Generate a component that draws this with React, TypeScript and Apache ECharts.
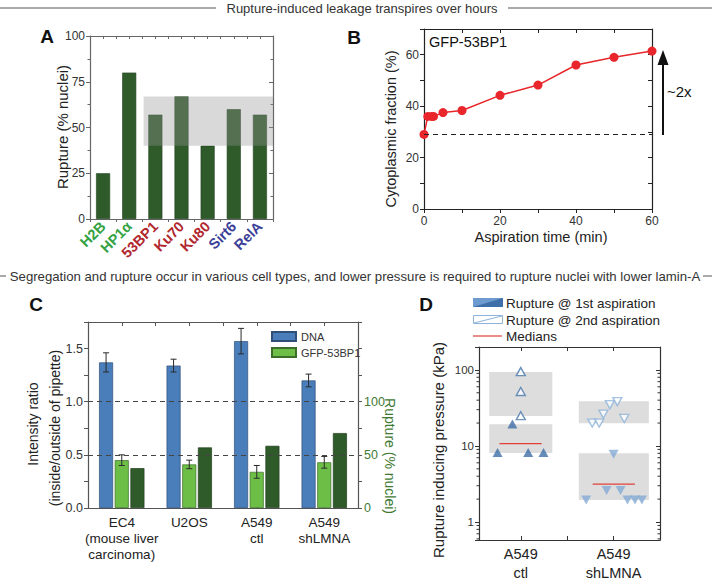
import React, { useEffect, useRef } from 'react';
import * as echarts from 'echarts';

// ---------- Panel A ----------
const catsA = ['H2B', 'HP1α', '53BP1', 'Ku70', 'Ku80', 'Sirt6', 'RelA'];
const ruptureA = [25, 80, 57, 67, 40, 60, 57];
// band: from category index, to category index, low %, high %
const bandA = [[2, 6, 40, 67]];
const labelColorsA = ['#35a244', '#35a244', '#b1262d', '#b1262d', '#b1262d', '#3c3f98', '#3c3f98'];

// ---------- Panel B ----------
const timeB = [0, 1, 2, 2.5, 5, 10, 20, 30, 40, 50, 60];
const fracB = [29, 36, 36, 36, 37.5, 38.3, 44.2, 48.2, 56, 59, 61.4];
const baselineB = 29;

// ---------- Panel C ----------
const catsC = ['EC4\n(mouse liver\ncarcinoma)', 'U2OS', 'A549\nctl', 'A549\nshLMNA'];
const dnaC = [1.37, 1.34, 1.57, 1.2];
const dnaErrC = [0.09, 0.06, 0.12, 0.06];
const gfpC = [0.45, 0.41, 0.34, 0.43];
const gfpErrC = [0.05, 0.04, 0.06, 0.055];
const ruptureC = [37.5, 57, 58.5, 70.5];
const refLinesC = [0.5, 1.0];

// ---------- Panel D ----------
const catLabelsD = ['A549\nctl', 'A549\nshLMNA'];
const catPosD = [1, 3];
const ctlFirst = [[0.5, 8.2], [0.82, 19.5], [1.16, 8.2], [1.49, 8.2]];
const ctlSecond = [[1, 25], [1, 52], [1, 95]];
const shFirst = [[2.41, 1.95], [2.85, 2.6], [3.0, 7.8], [3.15, 2.6], [3.3, 1.95], [3.46, 1.95], [3.61, 1.95]];
const shSecond = [[2.54, 20], [2.69, 20], [2.78, 26.2], [2.92, 34.9], [3.08, 38.3], [3.23, 23]];
// boxes: x0, x1, low, high
const boxesD = [[0.32, 1.68, 24.7, 94], [0.32, 1.68, 8.07, 19.3], [2.25, 3.76, 19.9, 38.6], [2.25, 3.76, 1.95, 8.0]];
// medians: x0, x1, value
const mediansD = [[0.54, 1.45, 10.7], [2.55, 3.46, 3.15]];
const logMinorTicksD = [0.6, 0.7, 0.8, 0.9, 2, 3, 4, 5, 6, 7, 8, 9, 20, 30, 40, 50, 60, 70, 80, 90];

const FONT = '"Liberation Sans", Arial, Helvetica, sans-serif';
const TXT = '#222';

const axLine = (color: string, width = 1.2) => ({ show: true, onZero: false, lineStyle: { color, width } });
const tick = (inside: boolean, color: string, length = 4) => ({ show: true, inside, length, lineStyle: { color, width: 1 } });
const noSplit = { show: false };

function text(x: number, y: number, t: string, size: number, o: any = {}) {
  return {
    type: 'text',
    x,
    y,
    rotation: o.rotation || 0,
    z: 100,
    silent: true,
    style: {
      text: t,
      fill: o.color || TXT,
      fontSize: size,
      fontFamily: FONT,
      fontWeight: o.weight || 'normal',
      textAlign: o.align || 'center',
      textVerticalAlign: 'middle',
      align: o.align || 'center',
      verticalAlign: 'middle',
    },
  };
}

function errorBarSeries(means: number[], errs: number[], offset: number) {
  return {
    type: 'custom',
    xAxisIndex: 4,
    yAxisIndex: 4,
    z: 4,
    silent: true,
    data: means.map((m, i) => [i, m, errs[i]]),
    encode: { x: 0, y: 1 },
    renderItem: (params: any, api: any) => {
      const i = api.value(0);
      const m = api.value(1);
      const e = api.value(2);
      const top = api.coord([i, m + e]);
      const bot = api.coord([i, m - e]);
      const x = top[0] + offset;
      const st = { stroke: '#2a2a2a', lineWidth: 1 };
      return {
        type: 'group',
        children: [
          { type: 'line', shape: { x1: x, y1: top[1], x2: x, y2: bot[1] }, style: st },
          { type: 'line', shape: { x1: x - 3, y1: top[1], x2: x + 3, y2: top[1] }, style: st },
          { type: 'line', shape: { x1: x - 3, y1: bot[1], x2: x + 3, y2: bot[1] }, style: st },
        ],
      };
    },
  };
}

const BW_C = 14;
const GAP_C = 0.12;
const OFF_C = BW_C * (1 + GAP_C);

function buildOption(): any {
  const isLogMajor = (v: number) => {
    const l = Math.log10(v);
    return Math.abs(l - Math.round(l)) < 1e-6 && v >= 1 && v <= 100;
  };
  const graphic: any[] = [
    // titles
    { type: 'line', shape: { x1: 0, y1: 8, x2: 216, y2: 8 }, style: { stroke: '#555', lineWidth: 1 } },
    text(362, 8, 'Rupture-induced leakage transpires over hours', 13, { color: '#333' }),
    { type: 'line', shape: { x1: 508, y1: 8, x2: 712, y2: 8 }, style: { stroke: '#555', lineWidth: 1 } },
    { type: 'line', shape: { x1: 0, y1: 276, x2: 6, y2: 276 }, style: { stroke: '#555', lineWidth: 1 } },
    text(355, 276, 'Segregation and rupture occur in various cell types, and lower pressure is required to rupture nuclei with lower lamin-A', 13.2, { color: '#333' }),
    { type: 'line', shape: { x1: 703, y1: 276, x2: 712, y2: 276 }, style: { stroke: '#555', lineWidth: 1 } },
    // panel letters
    text(47, 36, 'A', 19, { weight: 'bold', color: '#111' }),
    text(354, 37, 'B', 19, { weight: 'bold', color: '#111' }),
    text(36, 304, 'C', 19, { weight: 'bold', color: '#111' }),
    text(426, 304, 'D', 19, { weight: 'bold', color: '#111' }),
    // axis titles
    text(62, 127, 'Rupture (% nuclei)', 15, { rotation: Math.PI / 2 }),
    text(391, 129, 'Cytoplasmic fraction (%)', 14.5, { rotation: Math.PI / 2 }),
    text(541, 237, 'Aspiration time (min)', 14.5),
    text(33, 424, 'Intensity ratio', 14, { rotation: Math.PI / 2 }),
    text(55, 428, '(inside/outside of pipette)', 14, { rotation: Math.PI / 2 }),
    text(390, 456, 'Rupture (% nuclei)', 14, { rotation: -Math.PI / 2, color: '#3f7a35' }),
    text(438, 450, 'Rupture inducing pressure (kPa)', 15, { rotation: Math.PI / 2 }),
    // panel B annotations
    text(429, 42, 'GFP-53BP1', 14.5, { align: 'left', color: '#111' }),
    { type: 'line', shape: { x1: 663, y1: 135, x2: 663, y2: 62 }, style: { stroke: '#111', lineWidth: 2 } },
    { type: 'polygon', shape: { points: [[657.5, 65], [668.5, 65], [663, 50]] }, style: { fill: '#111' } },
    text(667, 91, '~2x', 15, { align: 'left', color: '#111' }),
    // panel D legend
    { type: 'rect', shape: { x: 473, y: 298, width: 30, height: 9 }, style: { fill: '#3e6fa8' } },
    { type: 'polygon', shape: { points: [[473, 298], [503, 298], [473, 307]] }, style: { fill: '#6d9bd0' } },
    text(506, 303, 'Rupture @ 1st aspiration', 13.5, { align: 'left' }),
    { type: 'rect', shape: { x: 473.5, y: 315.5, width: 29, height: 8 }, style: { fill: '#fff', stroke: '#8db3da', lineWidth: 1 } },
    { type: 'line', shape: { x1: 474, y1: 323, x2: 502, y2: 316 }, style: { stroke: '#8db3da', lineWidth: 1 } },
    text(506, 320, 'Rupture @ 2nd aspiration', 13.5, { align: 'left' }),
    { type: 'line', shape: { x1: 473, y1: 336, x2: 502, y2: 336 }, style: { stroke: '#e0403a', lineWidth: 1.2 } },
    text(506, 336, 'Medians', 13.5, { align: 'left' }),
  ];

  const labelBase = { fontFamily: FONT, color: '#333', fontSize: 12 };

  return {
    animation: false,
    backgroundColor: '#fff',
    textStyle: { fontFamily: FONT },
    grid: [
      { left: 90, top: 36, width: 183, height: 183 },
      { left: 424, top: 29, width: 228, height: 180 },
      { left: 88, top: 322, width: 270, height: 186 },
      { left: 479, top: 347, width: 181, height: 198 },
    ],
    legend: {
      data: ['DNA', 'GFP-53BP1'],
      left: 266,
      top: 326,
      orient: 'vertical',
      icon: 'rect',
      itemWidth: 24,
      itemHeight: 9,
      itemGap: 5,
      selectedMode: false,
      textStyle: { fontSize: 11, color: '#333', fontFamily: FONT },
    },
    xAxis: [
      {
        gridIndex: 0, type: 'category', data: catsA, position: 'bottom',
        axisLine: axLine('#666'), axisTick: { ...tick(false, '#666', 3), alignWithLabel: false },
        axisLabel: {
          interval: 0, rotate: 45, margin: 5, fontSize: 14.5, fontWeight: 'bold', fontFamily: FONT,
          color: (_v: any, i: number) => labelColorsA[i],
        },
        splitLine: noSplit,
      },
      {
        gridIndex: 0, type: 'value', position: 'top', min: -0.5, max: 6.5, interval: 0.5,
        axisLine: axLine('#666'), axisTick: tick(true, '#666', 3), axisLabel: { show: false }, splitLine: noSplit,
      },
      {
        gridIndex: 1, type: 'value', position: 'bottom', min: 0, max: 60, interval: 10,
        axisLine: axLine('#222'), axisTick: tick(false, '#222', 4),
        axisLabel: { ...labelBase, margin: 6, formatter: (v: number) => (v % 20 === 0 ? String(v) : '') },
        splitLine: noSplit,
      },
      {
        gridIndex: 1, type: 'value', position: 'top', min: 0, max: 60, interval: 10,
        axisLine: axLine('#222'), axisTick: tick(true, '#222', 4), axisLabel: { show: false }, splitLine: noSplit,
      },
      {
        gridIndex: 2, type: 'category', data: catsC, position: 'bottom',
        axisLine: axLine('#555'), axisTick: { ...tick(true, '#555', 4), alignWithLabel: true },
        axisLabel: { interval: 0, margin: 6, fontSize: 13.5, lineHeight: 16, color: TXT, fontFamily: FONT },
        splitLine: noSplit,
      },
      {
        gridIndex: 2, type: 'value', position: 'top', min: -0.5, max: 3.5, interval: 0.5,
        axisLine: axLine('#555'), axisTick: tick(true, '#555', 4), axisLabel: { show: false }, splitLine: noSplit,
      },
      {
        gridIndex: 3, type: 'value', position: 'bottom', min: 0.1, max: 4, splitNumber: 4,
        axisLine: axLine('#333'), axisTick: tick(true, '#333', 4),
        axisLabel: {
          margin: 5, fontSize: 14.5, lineHeight: 18.5, color: TXT, fontFamily: FONT,
          formatter: (v: number) => {
            const k = catPosD.findIndex((p) => Math.abs(p - v) < 1e-6);
            return k >= 0 ? catLabelsD[k] : '';
          },
        },
        splitLine: noSplit,
      },
      {
        gridIndex: 3, type: 'value', position: 'top', min: 0.1, max: 4, splitNumber: 4,
        axisLine: axLine('#333'), axisTick: tick(true, '#333', 4), axisLabel: { show: false }, splitLine: noSplit,
      },
    ],
    yAxis: [
      {
        gridIndex: 0, type: 'value', position: 'left', min: 0, max: 100, interval: 25,
        axisLine: axLine('#666'), axisTick: tick(false, '#666', 4),
        minorTick: { show: true, splitNumber: 2, length: 2.5, lineStyle: { color: '#666' } },
        axisLabel: { ...labelBase, margin: 5 }, splitLine: noSplit, minorSplitLine: noSplit,
      },
      {
        gridIndex: 0, type: 'value', position: 'right', min: 0, max: 100, interval: 25,
        axisLine: axLine('#666'), axisTick: tick(true, '#666', 4),
        minorTick: { show: true, splitNumber: 2, length: 2.5, lineStyle: { color: '#666' } },
        axisLabel: { show: false }, splitLine: noSplit,
      },
      {
        gridIndex: 1, type: 'value', position: 'left', min: 0, max: 70, interval: 10,
        axisLine: axLine('#222'), axisTick: tick(false, '#222', 4),
        axisLabel: { ...labelBase, margin: 5, formatter: (v: number) => (v % 20 === 0 ? String(v) : '') },
        splitLine: noSplit,
      },
      {
        gridIndex: 1, type: 'value', position: 'right', min: 0, max: 70, interval: 10,
        axisLine: axLine('#222'), axisTick: tick(true, '#222', 4), axisLabel: { show: false }, splitLine: noSplit,
      },
      {
        gridIndex: 2, type: 'value', position: 'left', min: 0, max: 1.75, interval: 0.25,
        axisLine: axLine('#555'), axisTick: tick(false, '#555', 4),
        axisLabel: {
          ...labelBase, fontSize: 12.5, margin: 5,
          formatter: (v: number) => (Math.abs(v * 2 - Math.round(v * 2)) < 1e-9 && v < 1.7 ? v.toFixed(1) : ''),
        },
        splitLine: noSplit,
      },
      {
        gridIndex: 2, type: 'value', position: 'right', min: 0, max: 175, interval: 25,
        axisLine: axLine('#555'), axisTick: tick(false, '#555', 4),
        axisLabel: {
          fontFamily: FONT, fontSize: 12.5, color: '#3f7a35', margin: 6,
          formatter: (v: number) => (v % 50 === 0 && v <= 100 ? String(v) : ''),
        },
        splitLine: noSplit,
      },
      {
        gridIndex: 3, type: 'log', logBase: 10, position: 'left', min: 0.58, max: 200,
        axisLine: axLine('#333'), axisTick: tick(false, '#333', 4),
        axisLabel: { ...labelBase, fontSize: 11.5, margin: 5, formatter: (v: number) => (isLogMajor(v) ? String(Math.round(v)) : '') },
        splitLine: noSplit,
      },
      {
        gridIndex: 3, type: 'log', logBase: 10, position: 'right', min: 0.58, max: 200,
        axisLine: axLine('#333'), axisTick: tick(true, '#333', 4), axisLabel: { show: false }, splitLine: noSplit,
      },
    ],
    series: [
      // Panel A
      {
        name: 'Rupture A', type: 'bar', xAxisIndex: 0, yAxisIndex: 0, data: ruptureA, barWidth: 14,
        itemStyle: { color: '#2f5b2b', borderColor: '#22401f', borderWidth: 0.6 },
      },
      {
        name: 'Band A', type: 'custom', xAxisIndex: 0, yAxisIndex: 0, z: 5, silent: true,
        data: bandA, encode: { x: [0, 1], y: [2, 3] },
        renderItem: (params: any, api: any) => {
          const bw = api.size([1, 0])[0];
          const p0 = api.coord([api.value(0), api.value(3)]);
          const p1 = api.coord([api.value(1), api.value(2)]);
          const x0 = p0[0] - 0.45 * bw;
          const x1 = p1[0] + 0.5 * bw;
          return {
            type: 'rect',
            shape: { x: x0, y: p0[1], width: x1 - x0, height: p1[1] - p0[1] },
            style: { fill: 'rgba(150,150,150,0.36)' },
          };
        },
      },
      // Panel B
      {
        name: 'GFP-53BP1 B', type: 'line', xAxisIndex: 2, yAxisIndex: 2,
        data: timeB.map((t, i) => [t, fracB[i]]),
        symbol: 'circle', symbolSize: 9,
        lineStyle: { color: '#e8262b', width: 1.5 }, itemStyle: { color: '#e8262b' },
        markLine: {
          silent: true, symbol: ['none', 'none'], label: { show: false },
          lineStyle: { type: [5, 4], color: '#222', width: 1.2 },
          data: [{ yAxis: baselineB }],
        },
      },
      // Panel C
      {
        name: 'DNA', type: 'bar', xAxisIndex: 4, yAxisIndex: 4, data: dnaC, barWidth: BW_C, barGap: `${GAP_C * 100}%`,
        itemStyle: { color: '#4a7ebb', borderColor: '#2e4f78', borderWidth: 0.7 },
        markLine: {
          silent: true, symbol: ['none', 'none'], label: { show: false },
          lineStyle: { type: [5, 4], color: '#444', width: 1 },
          data: refLinesC.map((v) => ({ yAxis: v })),
        },
      },
      {
        name: 'GFP-53BP1', type: 'bar', xAxisIndex: 4, yAxisIndex: 4, data: gfpC, barWidth: BW_C, barGap: `${GAP_C * 100}%`,
        itemStyle: { color: '#6dbe47', borderColor: '#3b6e28', borderWidth: 0.7 },
      },
      {
        name: 'Rupture C', type: 'bar', xAxisIndex: 4, yAxisIndex: 5, data: ruptureC, barWidth: BW_C, barGap: `${GAP_C * 100}%`,
        itemStyle: { color: '#2f5b2a', borderColor: '#1f3d1b', borderWidth: 0.7 },
      },
      errorBarSeries(dnaC, dnaErrC, -OFF_C),
      errorBarSeries(gfpC, gfpErrC, 0),
      // Panel D
      {
        name: 'Boxes D', type: 'custom', xAxisIndex: 6, yAxisIndex: 6, z: 1, silent: true,
        data: boxesD, encode: { x: [0, 1], y: [2, 3] },
        renderItem: (params: any, api: any) => {
          const p0 = api.coord([api.value(0), api.value(3)]);
          const p1 = api.coord([api.value(1), api.value(2)]);
          return {
            type: 'rect',
            shape: { x: p0[0], y: p0[1], width: p1[0] - p0[0], height: p1[1] - p0[1] },
            style: { fill: '#dddddd' },
          };
        },
      },
      {
        name: 'Medians D', type: 'custom', xAxisIndex: 6, yAxisIndex: 6, z: 2, silent: true,
        data: mediansD, encode: { x: [0, 1], y: 2 },
        renderItem: (params: any, api: any) => {
          const p0 = api.coord([api.value(0), api.value(2)]);
          const p1 = api.coord([api.value(1), api.value(2)]);
          return {
            type: 'line',
            shape: { x1: p0[0], y1: p0[1], x2: p1[0], y2: p1[1] },
            style: { stroke: '#e0403a', lineWidth: 1.3 },
          };
        },
      },
      {
        name: 'Minor ticks D', type: 'custom', xAxisIndex: 6, yAxisIndex: 6, z: 2, silent: true,
        data: logMinorTicksD.map((v) => [1, v]), encode: { x: 0, y: 1 },
        renderItem: (params: any, api: any) => {
          const y = api.coord([1, api.value(1)])[1];
          const cs = params.coordSys;
          const st = { stroke: '#333', lineWidth: 1 };
          return {
            type: 'group',
            children: [
              { type: 'line', shape: { x1: cs.x - 2.5, y1: y, x2: cs.x, y2: y }, style: st },
              { type: 'line', shape: { x1: cs.x + cs.width - 2.5, y1: y, x2: cs.x + cs.width, y2: y }, style: st },
            ],
          };
        },
      },
      {
        name: 'ctl 1st', type: 'scatter', xAxisIndex: 6, yAxisIndex: 6, z: 4, data: ctlFirst,
        symbol: 'triangle', symbolSize: [10, 9], itemStyle: { color: '#3e6fa8' },
      },
      {
        name: 'ctl 2nd', type: 'scatter', xAxisIndex: 6, yAxisIndex: 6, z: 4, data: ctlSecond,
        symbol: 'triangle', symbolSize: [9, 8], itemStyle: { color: '#ffffff', borderColor: '#4a78ad', borderWidth: 1.4 },
      },
      {
        name: 'sh 1st', type: 'scatter', xAxisIndex: 6, yAxisIndex: 6, z: 4, data: shFirst,
        symbol: 'triangle', symbolRotate: 180, symbolSize: [10, 9], itemStyle: { color: '#84abd4' },
      },
      {
        name: 'sh 2nd', type: 'scatter', xAxisIndex: 6, yAxisIndex: 6, z: 4, data: shSecond,
        symbol: 'triangle', symbolRotate: 180, symbolSize: [9, 8], itemStyle: { color: '#ffffff', borderColor: '#8db3da', borderWidth: 1.4 },
      },
    ],
    graphic,
  };
}

export default function App() {
  const ref = useRef<HTMLDivElement>(null);
  useEffect(() => {
    if (!ref.current) return;
    const chart = echarts.init(ref.current, undefined, { renderer: 'svg' });
    chart.setOption(buildOption());
    return () => chart.dispose();
  }, []);
  return (
    <div
      ref={ref}
      style={{ position: 'fixed', left: 0, top: 0, width: 712, height: 582, background: '#fff' }}
    />
  );
}
